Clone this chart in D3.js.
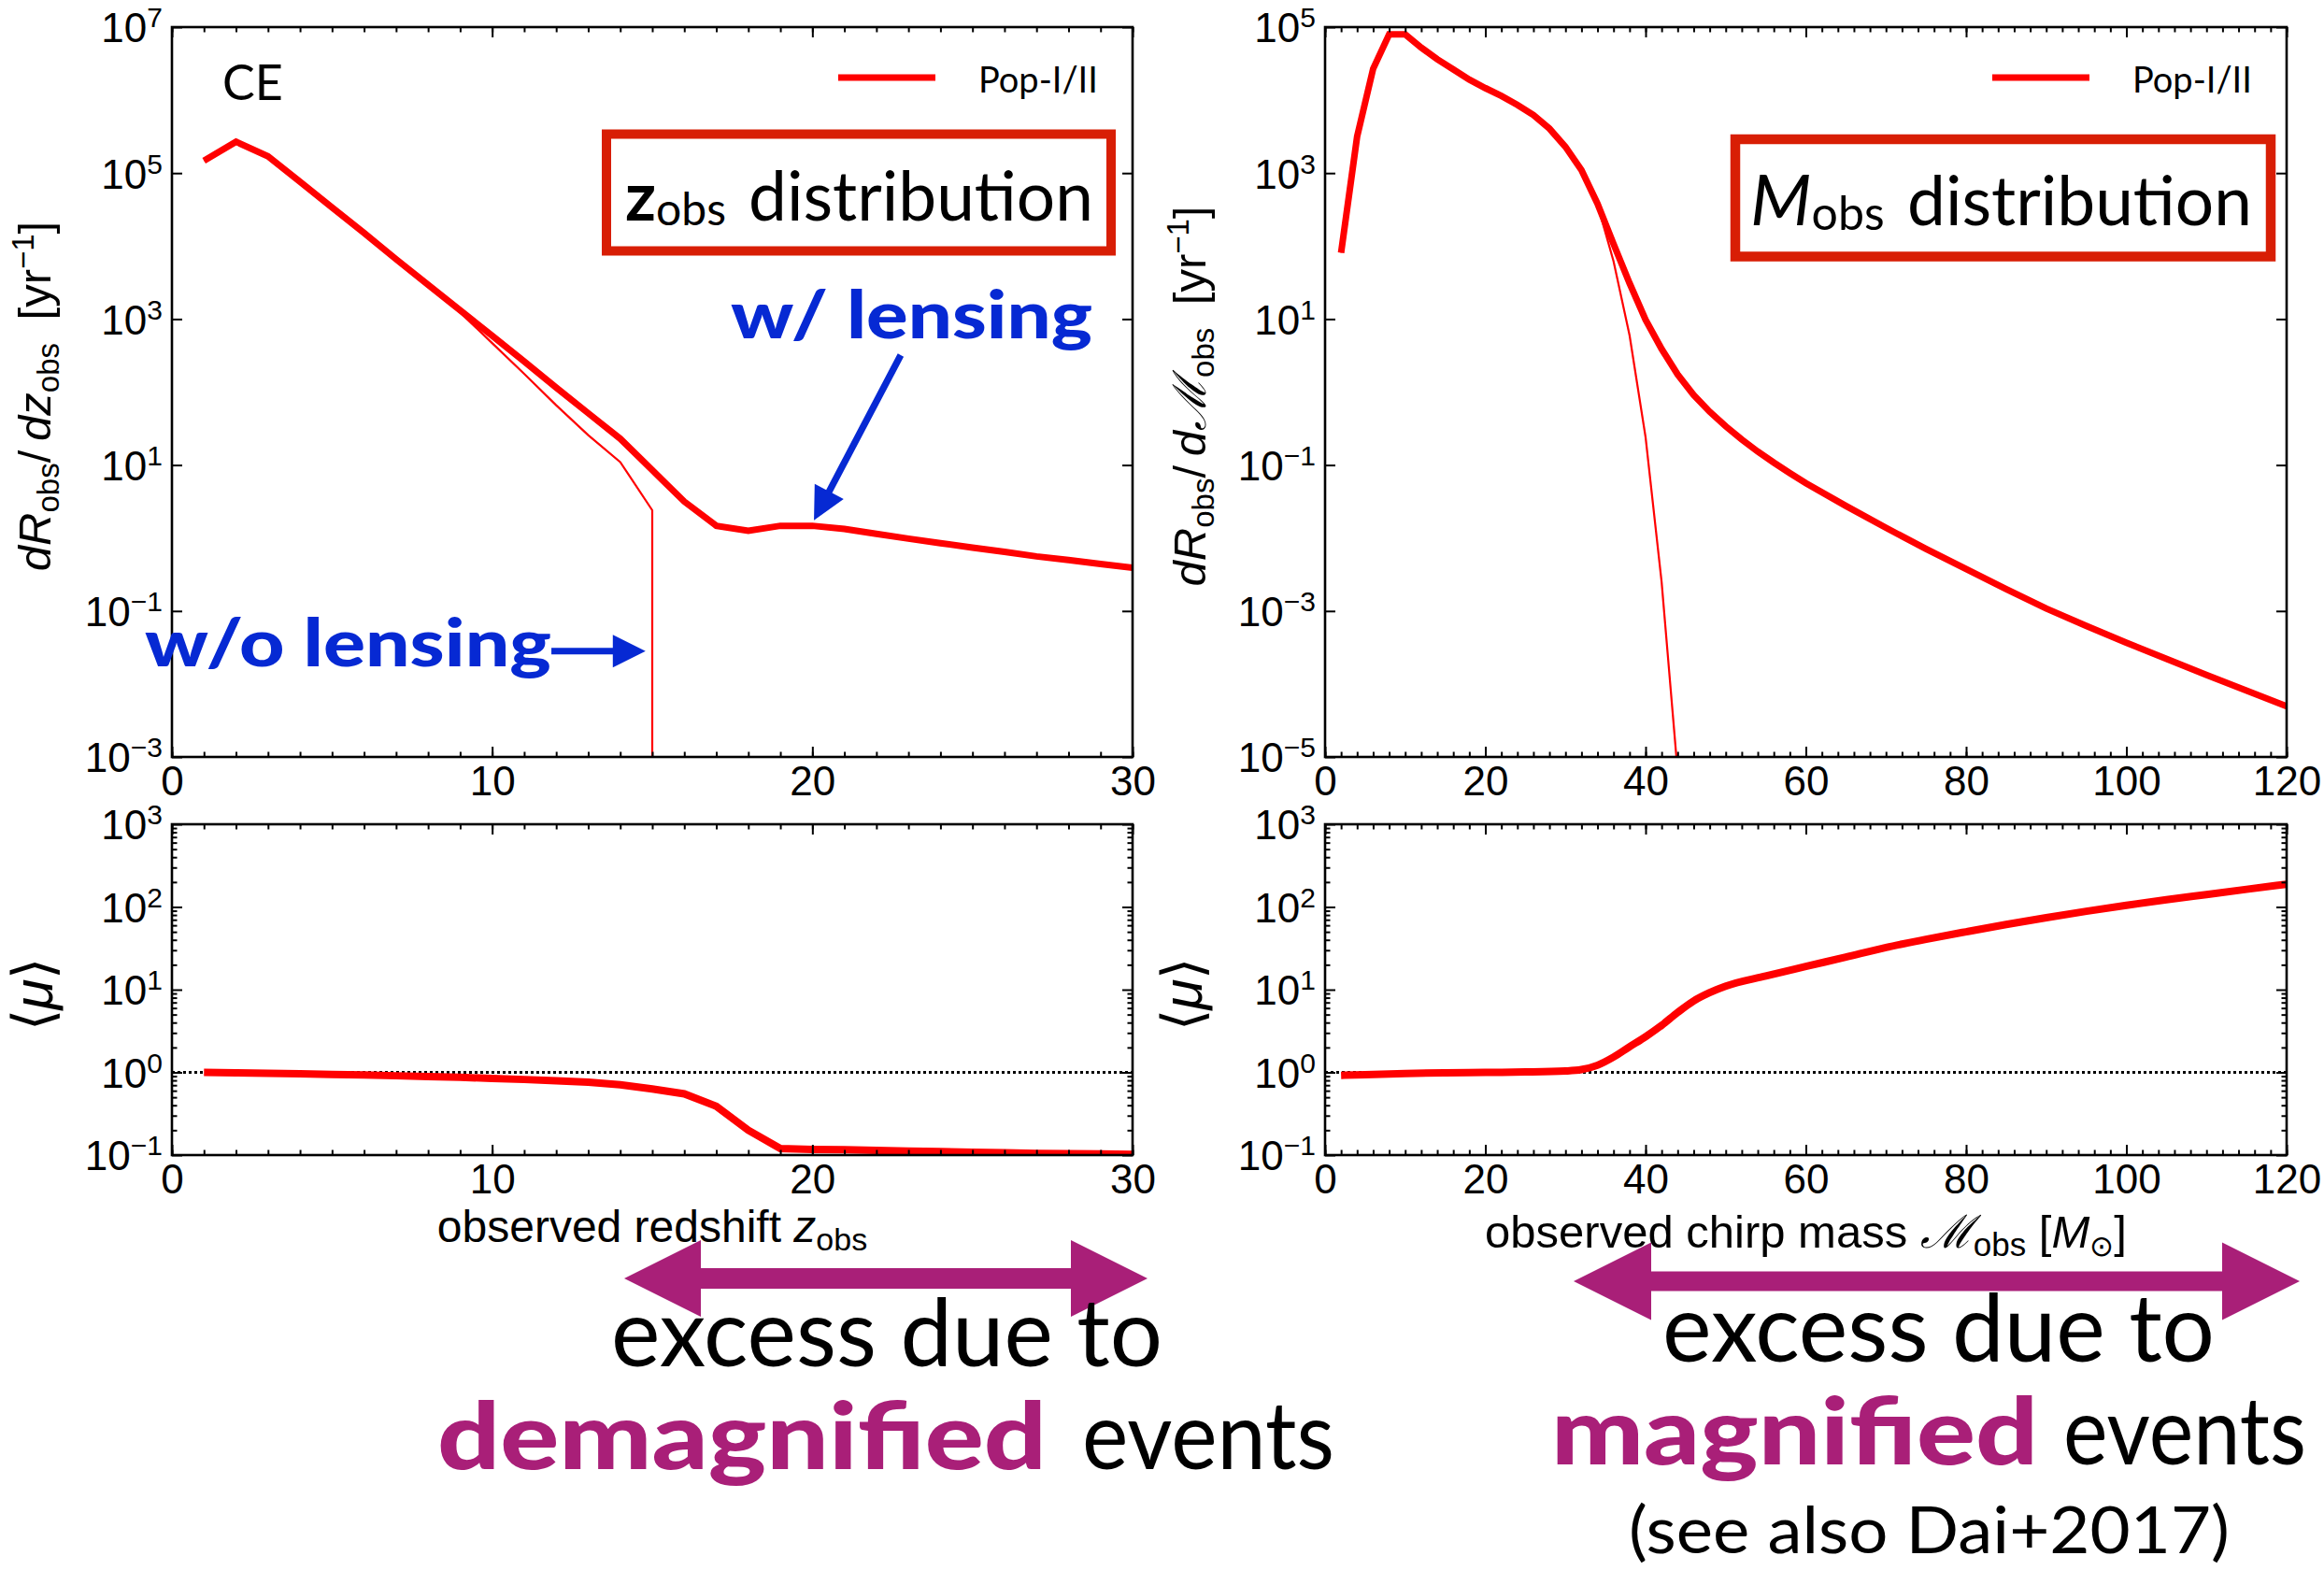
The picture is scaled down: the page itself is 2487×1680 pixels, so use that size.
<!DOCTYPE html>
<html>
<head>
<meta charset="utf-8">
<title>Lensed GW event distributions</title>
<script src="https://cdn.jsdelivr.net/npm/d3@7/dist/d3.min.js"></script>
<style>
  html, body { margin: 0; padding: 0; background: #fff; }
  svg { display: block; }
</style>
</head>
<body>
<svg id="fig" width="2487" height="1680" xmlns="http://www.w3.org/2000/svg"></svg>
<script>
// ---------------- data ----------------
// observed redshift distribution, CE detector, Pop-I/II binaries [yr^-1]
const zObs = [1,2,3,4,5,6,7,8,9,10,11,12,13,14,15,16,17,18,19,20,21,22,23,24,25,26,27,28,29,30];
const rateZLensed = [148000,269000,170000,75900,33900,15100,6610,2950,1320,589,263,115,51.3,22.9,8.5,3.16,1.47,1.26,1.47,1.47,1.33,1.14,0.98,0.85,0.74,0.645,0.56,0.50,0.44,0.39];
// without lensing the population stops at z = 15 (last value 0 = drop to the floor)
const zObsUnlensed = [1,2,3,4,5,6,7,8,9,10,11,12,13,14,15,15];
const rateZUnlensed = [148000,269000,170000,75900,33900,15100,6610,2950,1230,468,178,66,25.7,11.0,2.4,0];
// mean magnification vs observed redshift
const muZ = [1.00,0.99,0.975,0.96,0.945,0.93,0.91,0.89,0.87,0.845,0.82,0.79,0.76,0.71,0.63,0.55,0.39,0.20,0.12,0.117,0.116,0.114,0.112,0.110,0.108,0.107,0.105,0.104,0.103,0.102];

// observed chirp-mass distribution [yr^-1 Msun^-1]
const mObs = [2,4,6,8,10,12,14,16,18,20,22,24,26,28,30,32,34,36,38,40,42,44,46,48,50,52,54,56,58,60,65,70,75,80,85,90,95,100,105,110,115,120];
const rateMLensed = [81,3160,26900,79400,79400,52500,36300,26300,19100,14600,11400,8610,6240,4070,2290,1100,380,107,31,9.8,3.89,1.74,0.912,0.537,0.339,0.224,0.153,0.108,0.0776,0.0565,0.0275,0.0138,0.00708,0.00376,0.00200,0.00108,0.000624,0.000367,0.000221,0.000133,0.0000813,0.0000495];
const mObsUnlensed = [2,4,6,8,10,12,14,16,18,20,22,24,26,28,30,32,34,36,38,40,42,44];
const rateMUnlensed = [81,3160,26900,79400,79400,52500,36300,26300,19100,14600,11400,8610,6240,4070,2290,1100,370,62,6.0,0.24,0.0025,0.0000063];
// mean magnification vs observed chirp mass
const mMu = [2,5,10,15,20,25,30,32,34,36,38,40,42,44,46,48,50,55,60,65,70,75,80,85,90,95,100,105,110,115,120];
const muM = [0.92,0.94,0.97,0.99,1.0,1.01,1.04,1.08,1.22,1.53,2.04,2.7,3.7,5.3,7.3,9.2,11.0,14.6,19.05,24.8,32.4,40.6,50.1,61.4,74.1,88.7,104.7,122.2,141.3,163.3,188.4];

// tick values
const zTicks = [0,10,20,30];
const mTicks = [0,20,40,60,80,100,120];
const rateZTicks = [1e-3,1e-1,1e1,1e3,1e5,1e7];
const rateMTicks = [1e-5,1e-3,1e-1,1e1,1e3,1e5];
const muTicks = [1e-1,1e0,1e1,1e2,1e3];
const legendLabel = 'Pop-I/II';
const detectorLabel = 'CE';

// ---------------- layout ----------------
const LEFT = {x0: 184, x1: 1212}, RIGHT = {x0: 1418, x1: 2447};
const TOP = {y0: 29, y1: 810}, BOT = {y0: 882, y1: 1236};
const FONT = "'Liberation Sans', Arial, Helvetica, sans-serif";
const HUM = "Lato, 'Open Sans', 'Noto Sans', sans-serif";
const RED = '#ff0000', BOXRED = '#d81e05', BLUE = '#0629d3', MAG = '#a91f78';

const svg = d3.select('#fig');
svg.append('rect').attr('width', 2487).attr('height', 1680).attr('fill', '#fff');
const defs = svg.append('defs');

const xZ = d3.scaleLinear().domain([0, 30]).range([LEFT.x0, LEFT.x1]);
const xM = d3.scaleLinear().domain([0, 120]).range([RIGHT.x0, RIGHT.x1]);
const yRateZ = d3.scaleLog().domain([1e-3, 1e7]).range([TOP.y1, TOP.y0]);
const yRateM = d3.scaleLog().domain([1e-5, 1e5]).range([TOP.y1, TOP.y0]);
const yMuZ = d3.scaleLog().domain([1e-1, 1e3]).range([BOT.y1, BOT.y0]);
const yMuM = d3.scaleLog().domain([1e-1, 1e3]).range([BOT.y1, BOT.y0]);

const minorZ = d3.range(0, 31, 1);
const minorM = d3.range(0, 121, 2);
const minorMu = [];
[0.1, 1, 10, 100].forEach(b => { for (let k = 2; k <= 9; k++) minorMu.push(b * k); });

function clipFor(id, x, y) {
  const [xa, xb] = x.range(), [yb, ya] = y.range();
  defs.append('clipPath').attr('id', id).append('rect')
    .attr('x', xa).attr('y', ya).attr('width', xb - xa).attr('height', yb - ya);
  return `url(#${id})`;
}

// log-scale line; non-positive values fall straight to (below) the axis floor
function logLine(x, y) {
  return d3.line()
    .x(d => x(d[0]))
    .y(d => d[1] > 0 ? y(d[1]) : y.range()[0] + 60);
}

function curve(clip, x, y, xs, vs, width, curveType) {
  const gen = logLine(x, y);
  if (curveType) gen.curve(curveType);
  svg.append('path')
    .attr('clip-path', clip)
    .attr('d', gen(d3.zip(xs, vs)))
    .attr('fill', 'none').attr('stroke', RED)
    .attr('stroke-width', width)
    .attr('stroke-linejoin', 'miter').attr('stroke-miterlimit', 3);
}

function powLabels(sel) {
  sel.selectAll('.tick text').each(function (d) {
    const e = Math.round(Math.log10(d));
    const t = d3.select(this).attr('dy', '0.36em').text(null);
    t.append('tspan').text('10');
    t.append('tspan').attr('font-size', 30).attr('dy', -16)
      .text(e < 0 ? '\u2212' + (-e) : String(e));
  });
}

function frame(x, y, o) {
  const [xa, xb] = x.range(), [yb, ya] = y.range();
  const g = svg.append('g').attr('font-family', FONT);
  const none = () => '';
  const put = (axis, tx, ty) => {
    const s = g.append('g').attr('transform', `translate(${tx},${ty})`).call(axis);
    s.select('.domain').remove();
    s.attr('font-family', FONT).attr('font-size', 44);
    s.selectAll('.tick line').attr('stroke', '#000').attr('stroke-width', 2);
    s.selectAll('.tick text').attr('fill', '#000');
    return s;
  };
  const ax = (f, sc, vals, len, fmt) =>
    f(sc).tickValues(vals).tickSizeInner(-len).tickSizeOuter(0).tickPadding(10).tickFormat(fmt || none);

  // x: minor + labelled major at the bottom, mirrored on top
  put(ax(d3.axisBottom, x, o.xMinor, 5.5), 0, yb);
  put(ax(d3.axisBottom, x, o.xMajor, 11, d3.format('d')), 0, yb);
  put(ax(d3.axisTop, x, o.xMinor, 5.5), 0, ya);
  put(ax(d3.axisTop, x, o.xMajor, 11), 0, ya);
  // y: labelled powers of ten on the left, mirrored on the right
  if (o.yMinor) {
    put(ax(d3.axisLeft, y, o.yMinor, 5.5), xa, 0);
    put(ax(d3.axisRight, y, o.yMinor, 5.5), xb, 0);
  }
  const ly = put(ax(d3.axisLeft, y, o.yMajor, 11), xa, 0);
  powLabels(ly);
  put(ax(d3.axisRight, y, o.yMajor, 11), xb, 0);

  g.append('rect').attr('x', xa).attr('y', ya).attr('width', xb - xa).attr('height', yb - ya)
    .attr('fill', 'none').attr('stroke', '#000').attr('stroke-width', 2.6);
}

function richText(x, y, parts, attrs) {
  const t = svg.append('text').attr('x', x).attr('y', y);
  Object.entries(attrs || {}).forEach(([k, v]) => t.attr(k, v));
  parts.forEach(p => {
    const s = t.append('tspan').text(p.t);
    if (p.i) s.attr('font-style', 'italic');
    if (p.b) s.attr('font-weight', p.b);
    if (p.fs) s.attr('font-size', p.fs);
    if (p.dy) s.attr('dy', p.dy);
    if (p.x) s.attr('x', p.x);
    if (p.fill) s.attr('fill', p.fill);
  });
  return t;
}

function yLabel(x, y, parts, size) {
  const t = richText(0, 0, parts, {
    'font-family': FONT, 'font-size': size, 'text-anchor': 'middle', fill: '#000'
  });
  t.attr('transform', `translate(${x},${y}) rotate(-90)`);
}

function legend(x0, y0) {
  svg.append('line').attr('x1', x0).attr('x2', x0 + 104).attr('y1', y0).attr('y2', y0)
    .attr('stroke', RED).attr('stroke-width', 7);
  svg.append('text').attr('x', x0 + 150).attr('y', y0 + 16)
    .attr('font-family', HUM).attr('font-size', 38).attr('fill', '#000').text(legendLabel);
}

function arrow(p0, p1, headLen, headHalf, shaftHalf, color) {
  const [x0, y0] = p0, [x1, y1] = p1;
  const len = Math.hypot(x1 - x0, y1 - y0), ux = (x1 - x0) / len, uy = (y1 - y0) / len;
  const nx = -uy, ny = ux, bx = x1 - ux * headLen, by = y1 - uy * headLen;
  const pts = [
    [x0 + nx * shaftHalf, y0 + ny * shaftHalf], [bx + nx * shaftHalf, by + ny * shaftHalf],
    [bx + nx * headHalf, by + ny * headHalf], [x1, y1],
    [bx - nx * headHalf, by - ny * headHalf], [bx - nx * shaftHalf, by - ny * shaftHalf],
    [x0 - nx * shaftHalf, y0 - ny * shaftHalf]
  ];
  svg.append('polygon').attr('points', pts.map(p => p.join(',')).join(' ')).attr('fill', color);
}

function doubleArrow(xl, xr, yc, headLen, headHalf, shaftHalf) {
  const pts = [
    [xl, yc], [xl + headLen, yc - headHalf], [xl + headLen, yc - shaftHalf],
    [xr - headLen, yc - shaftHalf], [xr - headLen, yc - headHalf], [xr, yc],
    [xr - headLen, yc + headHalf], [xr - headLen, yc + shaftHalf],
    [xl + headLen, yc + shaftHalf], [xl + headLen, yc + headHalf]
  ];
  svg.append('polygon').attr('points', pts.map(p => p.join(',')).join(' ')).attr('fill', MAG);
}

function unityLine(x, y) {
  svg.append('line').attr('x1', x.range()[0]).attr('x2', x.range()[1])
    .attr('y1', y(1)).attr('y2', y(1))
    .attr('stroke', '#000').attr('stroke-width', 3).attr('stroke-dasharray', '3,3');
}

// ---------------- top left: dR/dz ----------------
const clipTL = clipFor('clipTL', xZ, yRateZ);
curve(clipTL, xZ, yRateZ, zObsUnlensed, rateZUnlensed, 2.2);
curve(clipTL, xZ, yRateZ, zObs, rateZLensed, 7);
frame(xZ, yRateZ, {xMajor: zTicks, xMinor: minorZ, yMajor: rateZTicks});
svg.append('text').attr('x', 238).attr('y', 107).attr('font-family', HUM)
  .attr('font-size', 52).attr('fill', '#000').text(detectorLabel);
legend(897, 83);
svg.append('rect').attr('x', 649).attr('y', 143.5).attr('width', 540).attr('height', 125)
  .attr('fill', '#fff').attr('stroke', BOXRED).attr('stroke-width', 10);
richText(669, 236, [
  {t: 'z', fs: 72, b: 700},
  {t: 'obs', fs: 48, dy: 5},
  {t: 'distribution', fs: 73, dy: -5, x: 801}
], {'font-family': HUM, fill: '#000'});

// annotations on the z panel (anchored in data units)
richText(xZ(17.45), yRateZ(Math.pow(10, 2.736)), [{t: 'w/ lensing'}], {
  'font-family': HUM, 'font-size': 70, 'font-weight': 900, fill: BLUE,
  textLength: 387, lengthAdjust: 'spacingAndGlyphs'
});
arrow([xZ(22.76), yRateZ(Math.pow(10, 2.506))], [xZ(20.05), yRateZ(Math.pow(10, 0.242))], 35, 17.5, 3.6, BLUE);
arrow([xZ(11.85), yRateZ(Math.pow(10, -1.55))], [xZ(14.79), yRateZ(Math.pow(10, -1.55))], 35, 17.6, 3.4, BLUE);
richText(xZ(-0.846), yRateZ(Math.pow(10, -1.758)), [{t: 'w/o lensing'}], {
  'font-family': HUM, 'font-size': 70, 'font-weight': 900, fill: BLUE,
  textLength: 435, lengthAdjust: 'spacingAndGlyphs'
});

yLabel(54, 424, [
  {t: 'd', i: 1}, {t: 'R', i: 1}, {t: 'obs', fs: 33, dy: 9}, {t: '/\u2009', dy: -9},
  {t: 'd', i: 1}, {t: 'z', i: 1}, {t: 'obs', fs: 33, dy: 9},
  {t: '\u2002[yr', dy: -9}, {t: '\u22121', fs: 33, dy: -18}, {t: ']', dy: 18}
], 49);

// ---------------- top right: dR/dM ----------------
const clipTR = clipFor('clipTR', xM, yRateM);
curve(clipTR, xM, yRateM, mObsUnlensed, rateMUnlensed, 2.2);
curve(clipTR, xM, yRateM, mObs, rateMLensed, 7);
frame(xM, yRateM, {xMajor: mTicks, xMinor: minorM, yMajor: rateMTicks});
legend(2132, 83);
svg.append('rect').attr('x', 1857).attr('y', 149).attr('width', 573).attr('height', 125.5)
  .attr('fill', '#fff').attr('stroke', BOXRED).attr('stroke-width', 10.5);
richText(1873, 241, [
  {t: 'M', fs: 76, i: 1},
  {t: 'obs', fs: 50, dy: 5},
  {t: 'distribution', fs: 73, dy: -5, x: 2041}
], {'font-family': HUM, fill: '#000'});

yLabel(1290, 424, [
  {t: 'd', i: 1}, {t: 'R', i: 1}, {t: 'obs', fs: 33, dy: 9}, {t: '/\u2009', dy: -9},
  {t: 'd', i: 1}, {t: '\u2133', i: 1}, {t: 'obs', fs: 33, dy: 9},
  {t: '\u2002[yr', dy: -9}, {t: '\u22121', fs: 33, dy: -18}, {t: ']', dy: 18}
], 49);

// ---------------- bottom left: <mu>(z) ----------------
const clipBL = clipFor('clipBL', xZ, yMuZ);
unityLine(xZ, yMuZ);
curve(clipBL, xZ, yMuZ, zObs, muZ, 8);
frame(xZ, yMuZ, {xMajor: zTicks, xMinor: minorZ, yMajor: muTicks, yMinor: minorMu});
yLabel(56, 1064, [{t: '\u27E8'}, {t: '\u03BC', i: 1}, {t: '\u27E9'}], 60);
richText((LEFT.x0 + LEFT.x1) / 2, 1329, [
  {t: 'observed redshift '}, {t: 'z', i: 1}, {t: 'obs', fs: 34, dy: 9}
], {'font-family': FONT, 'font-size': 48, 'text-anchor': 'middle', fill: '#000'});

// ---------------- bottom right: <mu>(M) ----------------
const clipBR = clipFor('clipBR', xM, yMuM);
unityLine(xM, yMuM);
curve(clipBR, xM, yMuM, mMu, muM, 8, d3.curveMonotoneX);
frame(xM, yMuM, {xMajor: mTicks, xMinor: minorM, yMajor: muTicks, yMinor: minorMu});
yLabel(1286, 1064, [{t: '\u27E8'}, {t: '\u03BC', i: 1}, {t: '\u27E9'}], 60);
richText((RIGHT.x0 + RIGHT.x1) / 2, 1335, [
  {t: 'observed chirp mass '}, {t: '\u2133', i: 1}, {t: 'obs', fs: 35, dy: 9},
  {t: ' [', dy: -9}, {t: 'M', i: 1}, {t: '\u2299', fs: 31, dy: 9}, {t: ']', dy: -9}
], {'font-family': FONT, 'font-size': 49, 'text-anchor': 'middle', fill: '#000'});

// ---------------- explanatory notes under the panels ----------------
doubleArrow(668, 1228, 1368, 82, 41, 11);
doubleArrow(1684, 2461, 1371, 83, 41.5, 10.5);

const note = (x, y, str, len, opts) => {
  const t = svg.append('text').attr('x', x).attr('y', y).attr('font-family', HUM)
    .attr('font-size', opts.fs).attr('fill', opts.fill || '#000')
    .attr('textLength', len).attr('lengthAdjust', 'spacingAndGlyphs').text(str);
  if (opts.b) t.attr('font-weight', opts.b);
};
note(654, 1462, 'excess due to', 590, {fs: 100});
note(468, 1572, 'demagnified', 652, {fs: 100, b: 900, fill: MAG});
note(1158, 1572, 'events', 270, {fs: 100});
note(1779, 1457, 'excess due to', 591, {fs: 100});
note(1660, 1567, 'magnified', 521, {fs: 100, b: 900, fill: MAG});
note(2208, 1567, 'events', 260, {fs: 100});
note(1743, 1662, '(see also Dai+2017)', 643, {fs: 70});
</script>
</body>
</html>
